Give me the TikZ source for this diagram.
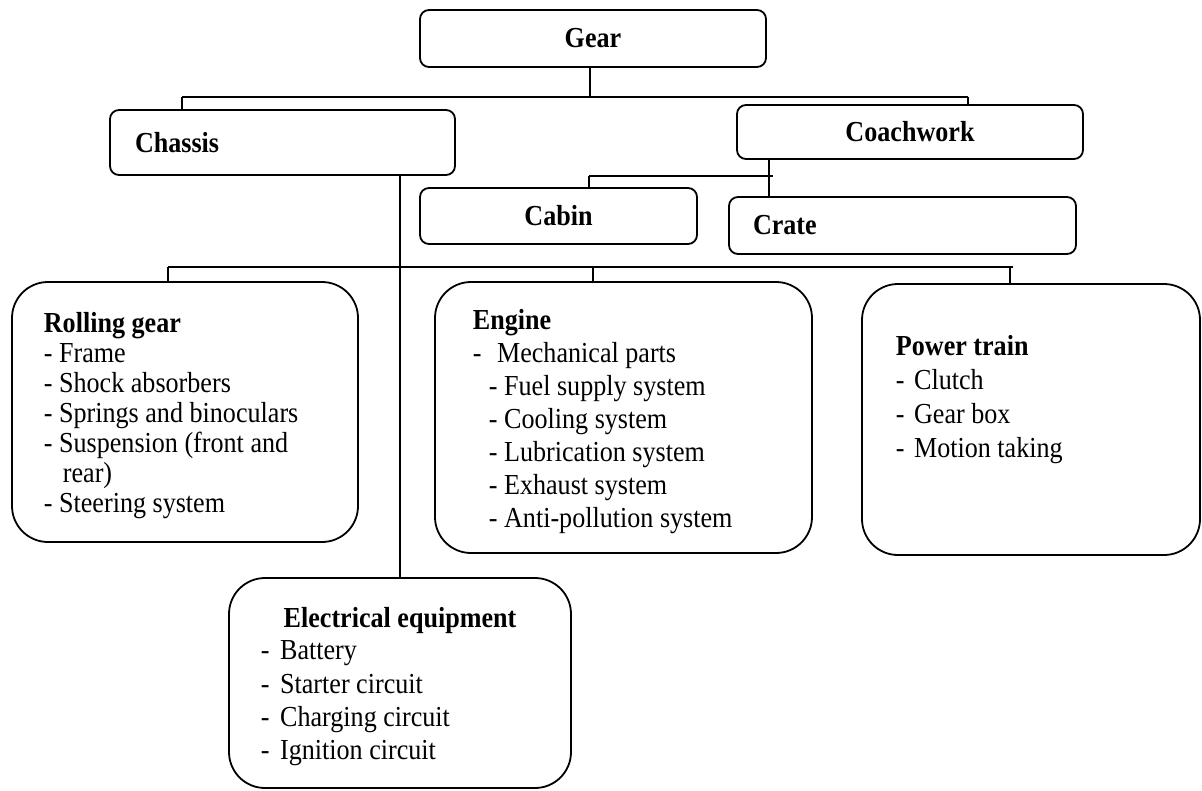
\documentclass[tikz,border=0pt]{standalone}
\usepackage{fontspec}
\setmainfont{Liberation Serif}[FakeStretch=0.9]
\begin{document}
\begin{tikzpicture}[x=1pt,y=-1pt,line width=1.8pt,
  box/.style={draw, rounded corners=9pt, inner sep=0pt, font=\fontsize{29}{30}\selectfont\bfseries},
  bigbox/.style={draw, rounded corners=36pt, inner sep=0pt},
  txt/.style={anchor=north west, align=left, inner sep=0pt}]
\useasboundingbox (0,0) rectangle (1202,790);
\node[box, minimum width=346pt, minimum height=57pt] (gear) at (593,38.5){Gear};
\node[box, minimum width=345pt, minimum height=65pt, text width=295pt, align=left] (chassis) at (282.5,142.5){Chassis};
\node[box, minimum width=346pt, minimum height=54pt] (coach) at (910,132){Coachwork};
\node[box, minimum width=277pt, minimum height=56pt] (cabin) at (558.5,216){Cabin};
\node[box, minimum width=347pt, minimum height=57pt, text width=299pt, align=left] (crate) at (902.5,225.5){Crate};
\node[bigbox, minimum width=346pt, minimum height=260pt] (roll) at (185,412){};
\node[bigbox, minimum width=377pt, minimum height=271pt] (engine) at (623.5,417.5){};
\node[bigbox, minimum width=338pt, minimum height=271pt] (power) at (1031,419.5){};
\node[bigbox, minimum width=342pt, minimum height=210pt] (elec) at (400,683){};
\node[txt, font=\fontsize{29}{30}\selectfont] (rolltext) at (43,311.5){\textbf{Rolling gear}\\- Frame\\- Shock absorbers\\- Springs and binoculars\\- Suspension (front and\\\hspace*{19pt}rear)\\- Steering system};
\node[txt, font=\fontsize{29}{33}\selectfont] (enginetext) at (472,308.5){\textbf{Engine}\\-\hspace{9pt} Mechanical parts\\\hspace*{16pt}- Fuel supply system\\\hspace*{16pt}- Cooling system\\\hspace*{16pt}- Lubrication system\\\hspace*{16pt}- Exhaust system\\\hspace*{16pt}- Anti-pollution system};
\node[txt, font=\fontsize{29}{34}\selectfont] (powertext) at (895,334.5){\textbf{Power train}\\-\hspace{3pt} Clutch\\-\hspace{3pt} Gear box\\-\hspace{3pt} Motion taking};
\node[anchor=base, inner sep=0pt, font=\fontsize{29}{30}\selectfont\bfseries] (electitle) at (400,627){Electrical equipment};
\node[txt, font=\fontsize{29}{33.3}\selectfont] (electext) at (260,640){-\hspace{4pt} Battery\\-\hspace{4pt} Starter circuit\\-\hspace{4pt} Charging circuit\\-\hspace{4pt} Ignition circuit};
\coordinate (j1) at (590,97);
\coordinate (b1l) at (182,97);
\coordinate (b1r) at (968,97);
\coordinate (j2) at (769,176);
\coordinate (b2l) at (589,176);
\coordinate (b2r) at (773,176);
\coordinate (b3l) at (168,267);
\coordinate (b3r) at (1013,267);
\coordinate (j4) at (593,267);
\coordinate (j5) at (1010,267);
\draw[](j1 |- gear.south) -- (j1);
\draw[](b1l) -- (b1r);
\draw[](b1l) -- (b1l |- chassis.north);
\draw[](b1r) -- (b1r |- coach.north);
\draw[](j2 |- coach.south) -- (j2 |- crate.north);
\draw[](b2l) -- (b2r);
\draw[](b2l) -- (b2l |- cabin.north);
\draw[](elec.north |- chassis.south) -- (elec.north);
\draw[](b3l) -- (b3r);
\draw[](b3l) -- (b3l |- roll.north);
\draw[](j4) -- (j4 |- engine.north);
\draw[](j5) -- (j5 |- power.north);
\end{tikzpicture}
\end{document}
